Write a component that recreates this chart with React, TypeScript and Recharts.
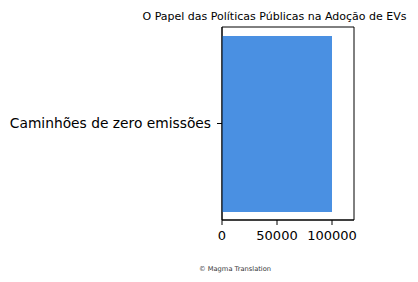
import React from 'react';
import { BarChart, Bar, XAxis, YAxis, ReferenceArea, Customized } from 'recharts';

const categories = ['Caminhões de zero emissões'];
const values = [100000];
const xTicks = [0, 50000, 100000];
const title = 'O Papel das Políticas Públicas na Adoção de EVs';
const footer = '© Magma Translation';

const data = categories.map((name, i) => ({ name, value: values[i] }));

const FONT = '"DejaVu Sans", sans-serif';

const Labels = () => (
  <g fontFamily={FONT}>
    <text x={274.5} y={19.8} textAnchor="middle" fontSize={11} fill="#000">
      {title}
    </text>
    <text x={235} y={270.5} textAnchor="middle" fontSize={6.7} fill="#333">
      {footer}
    </text>
  </g>
);

const App: React.FC = () => {
  return (
    <div style={{ position: 'absolute', left: 0, top: 0, width: 418, height: 282, background: '#fff' }}>
      <BarChart
        width={418}
        height={282}
        data={data}
        layout="vertical"
        margin={{ top: 27, right: 64, bottom: 0, left: 0 }}
        barSize={176}
      >
        <XAxis
          type="number"
          domain={[0, 120000]}
          ticks={xTicks}
          allowDataOverflow
          height={62}
          tickSize={5}
          tickMargin={6}
          stroke="#000"
          tick={{ fill: '#000', fontSize: 13, fontFamily: FONT }}
        />
        <YAxis
          type="category"
          dataKey="name"
          width={222}
          tickSize={5}
          tickMargin={6}
          stroke="#000"
          tick={{ fill: '#000', fontSize: 13.8, fontFamily: FONT }}
        />
        <Bar dataKey="value" fill="#4A90E2" isAnimationActive={false} />
        <ReferenceArea x1={0} x2={120000} fill="none" stroke="#000" strokeWidth={1} ifOverflow="visible" />
        <Customized component={Labels} />
      </BarChart>
    </div>
  );
};

export default App;
